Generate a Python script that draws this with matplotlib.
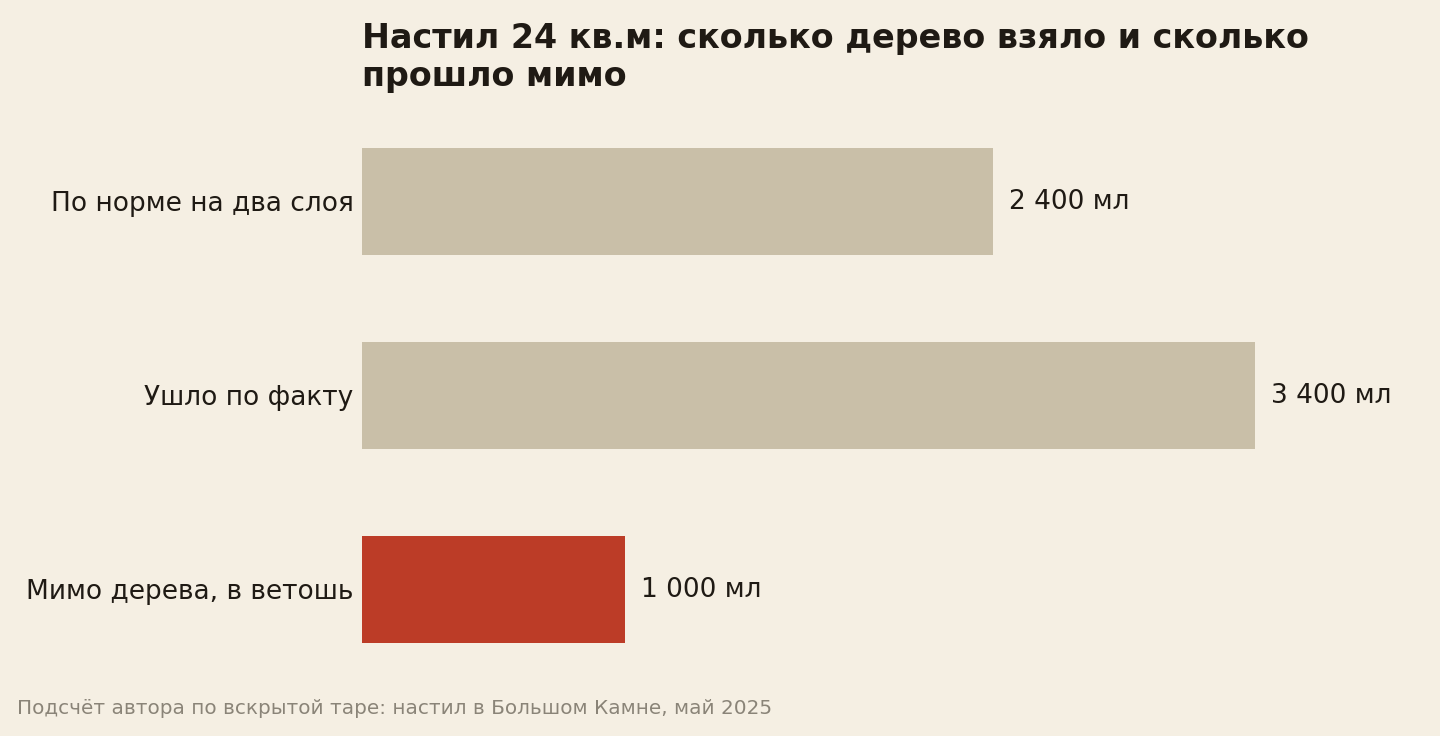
import numpy as np
import matplotlib.pyplot as plt

# data
labels = ['По норме на два слоя', 'Ушло по факту', 'Мимо дерева, в ветошь']
values = np.array([2400, 3400, 1000])
value_text = ['2 400 мл', '3 400 мл', '1 000 мл']
colors = ['#c9bfa8', '#c9bfa8', '#bc3c27']

bg = '#f5efe3'
ink = '#1f1a14'

fig = plt.figure(figsize=(14.4, 7.36), dpi=100, facecolor=bg)
ax = fig.add_axes([0.2514, 0.0673, 0.729, 0.7908])
ax.set_facecolor(bg)

y = np.arange(len(labels))
ax.barh(y, values, height=0.55, color=colors)
ax.set_xlim(0, 3995)
ax.set_ylim(2.5, -0.5)

for yi, v, t in zip(y, values, value_text):
    ax.annotate(t, (v, yi), xytext=(16, -1), textcoords='offset pixels',
                va='center', ha='left', fontsize=19, color=ink)

ax.set_yticks(y)
ax.set_yticklabels(labels, fontsize=19, color=ink)
ax.tick_params(axis='y', length=0, pad=6)
ax.set_xticks([])
for s in ax.spines.values():
    s.set_visible(False)

fig.text(362 / 1440, 1 - 22 / 736, 'Настил 24 кв.м: сколько дерево взяло и сколько\nпрошло мимо',
         ha='left', va='top', fontsize=24, fontweight='bold', color=ink, linespacing=1.2)
fig.text(17 / 1440, 1 - 708 / 736, 'Подсчёт автора по вскрытой таре: настил в Большом Камне, май 2025',
         ha='left', va='center', fontsize=14.4, color='#8a8478')

fig.savefig('out.png', dpi=100, facecolor=bg)
